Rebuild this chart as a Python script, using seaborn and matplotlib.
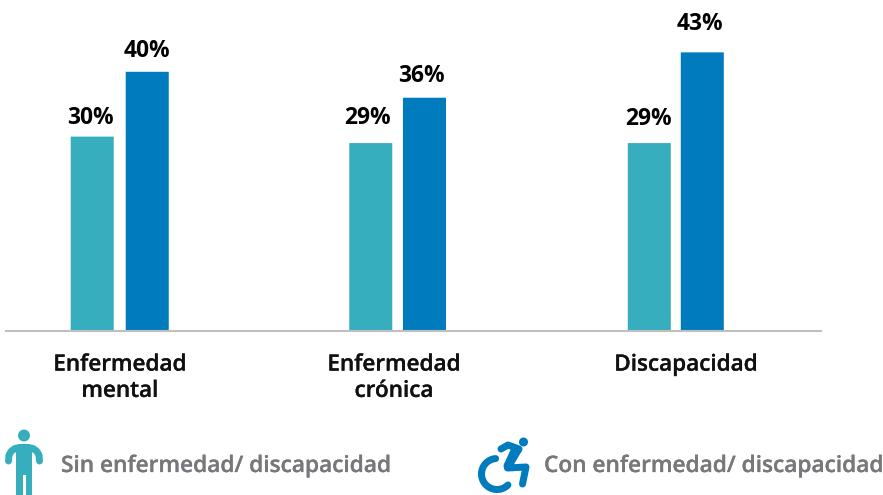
import matplotlib
matplotlib.use("Agg")
import matplotlib.pyplot as plt
import matplotlib.patheffects as pe
from matplotlib.patches import Circle, Rectangle, FancyBboxPatch
import numpy as np
import pandas as pd
import seaborn as sns

categories = ["Enfermedad\nmental", "Enfermedad\ncrónica", "Discapacidad"]
series_names = ["Sin enfermedad/ discapacidad", "Con enfermedad/ discapacidad"]
sin_values = [30, 29, 29]
con_values = [40, 36, 43]
colors = ["#37AEBE", "#007BBD"]
tick_positions = [0, 0.984, 2.032]

sns.set_theme(style="white")
plt.rcParams["font.family"] = ["Open Sans", "DejaVu Sans"]


def heavy(text, width):
    text.set_path_effects([pe.withStroke(linewidth=width, foreground=text.get_color())])


W, H = 883, 495
PX = 278.5  # pixels per category
fig = plt.figure(figsize=(W / 100, H / 100), dpi=100, facecolor="white")
ax = fig.add_axes([6 / W, 1 - 331 / H, 815 / W, 321 / H])

df = pd.DataFrame({
    "cat": categories * 2,
    "serie": [series_names[0]] * 3 + [series_names[1]] * 3,
    "valor": sin_values + con_values,
})
sns.barplot(data=df, x="cat", y="valor", hue="serie", palette=colors,
            width=0.395, gap=0.218, saturation=1, legend=False, linewidth=0, ax=ax)

# small pixel nudges so bars and value labels sit where the reference has them
nudges = [[-0.2, -0.2, -0.2], [-0.2, -1.5, -2.2]]
label_dx = [[-2, -3, -0.5], [0, -3, -2.5]]
label_dy = [[-5, 2, 1], [-2, -1, 5]]
for c, nudge, dxs, dys in zip(ax.containers, nudges, label_dx, label_dy):
    for bar, n in zip(c, nudge):
        bar.set_x(bar.get_x() + n / PX)
        bar.set_snap(False)
    anns = ax.bar_label(c, labels=[f"{v:.0f}%" for v in c.datavalues], padding=8,
                        fontsize=16.4, fontweight="bold", color="black")
    for a, dx, dy in zip(anns, dxs, dys):
        a.xyann = (dx * 0.72, a.xyann[1] + dy * 0.72)

ax.set_xlim(-0.409, 2.517)
ax.set_ylim(0, 321 / 6.48)
ax.set_xlabel("")
ax.set_ylabel("")
ax.set_yticks([])
ax.set_xticks(tick_positions)
ax.set_xticklabels(categories, fontsize=16.2, fontweight="semibold", color="#111111", linespacing=1.33)
for t in ax.get_xticklabels():
    heavy(t, 0.2)
ax.tick_params(axis="x", length=0, pad=17)
for s in ["top", "left", "right"]:
    ax.spines[s].set_visible(False)
ax.spines["bottom"].set_color("#BFBFBF")
ax.spines["bottom"].set_linewidth(1.5)
ax.patch.set_alpha(0)

# Overlay in pixel coordinates for the legend pictograms and labels
ov = fig.add_axes([0, 0, 1, 1], facecolor="none")
ov.set_xlim(0, W)
ov.set_ylim(H, 0)
ov.axis("off")
LW = 0.72

# person icon
c0 = colors[0]
ov.add_patch(Circle((24, 435.5), 6, color=c0, lw=0))
ov.add_patch(FancyBboxPatch((16.3, 444), 15.4, 14, boxstyle="round,pad=0,rounding_size=4", color=c0, lw=0))
ov.add_patch(Rectangle((16.3, 452), 15.4, 23, color=c0, lw=0))
ov.add_patch(Rectangle((16.3, 474), 6.2, 21, color=c0, lw=0))
ov.add_patch(Rectangle((26, 474), 5.7, 21, color=c0, lw=0))
ov.plot([8.5, 9, 11.5, 15, 20], [461, 455, 451, 448.5, 447.5], color=c0, lw=7 * LW, solid_capstyle="round")
ov.plot([39.5, 39, 36.5, 33, 28], [461, 455, 451, 448.5, 447.5], color=c0, lw=7 * LW, solid_capstyle="round")

# wheelchair icon
c1 = colors[1]
ov.add_patch(Circle((523.5, 442), 4.5, color=c1, lw=0))
ang = np.radians(np.linspace(-95, -315, 70))
ov.plot(497 + 15.5 * np.cos(ang), 474 + 15.5 * np.sin(ang), color=c1, lw=7 * LW, solid_capstyle="round")
ov.plot([501, 508, 519, 507.5, 526, 522.5], [449, 445, 449, 468, 467, 484],
        color=c1, lw=7 * LW, solid_capstyle="round", solid_joinstyle="round")
ov.plot([515, 508], [451, 466], color=c1, lw=9 * LW, solid_capstyle="round")

for x, name in zip([61, 544], series_names):
    t = ov.text(x, 466, name, fontsize=16.3, fontweight="semibold", color="#77787B", va="center", ha="left")
    heavy(t, 0.2)

fig.savefig("out.png", dpi=100)
